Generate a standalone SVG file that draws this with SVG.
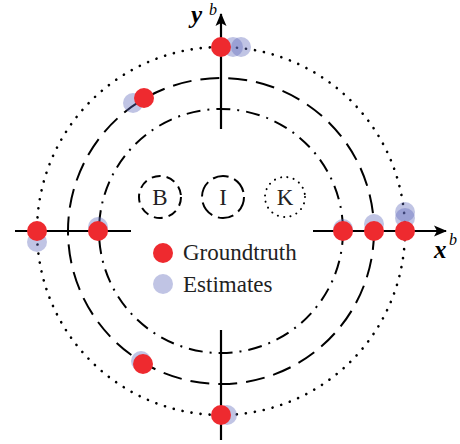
<svg xmlns="http://www.w3.org/2000/svg" width="460" height="444" viewBox="0 0 460 444">
<style>
.ring{fill:none;stroke:#000;stroke-width:2}
.outer{stroke-dasharray:0.1 9;stroke-linecap:round;stroke-width:2.6}
.mid{stroke-dasharray:19 9}
.inner{stroke-dasharray:14 7 2 7}
.axis{stroke:#000;stroke-width:2.2;fill:none}
.gt{fill:#ee2a2f}
.est{fill:#616bbb;fill-opacity:0.4}
.lbl{font-family:"Liberation Serif",serif;font-size:23px;fill:#222}
.ax{font-family:"Liberation Serif",serif;font-style:italic;fill:#000}
</style>
<defs>
<marker id="arr" markerWidth="14" markerHeight="12" refX="12" refY="6" orient="auto" markerUnits="userSpaceOnUse">
<path d="M0,0.5 L13,6 L0,11.5 L3,6 Z" fill="#000"/>
</marker>
</defs>
<rect width="460" height="444" fill="#fff"/>
<g id="rings">
<circle class="ring outer" cx="221" cy="231" r="184"/>
<circle class="ring mid" cx="221" cy="231" r="153"/>
<circle class="ring inner" cx="221" cy="231" r="122"/>
</g>
<g id="connectors">
<line class="axis" x1="15" y1="231" x2="131" y2="231"/>
<line class="axis" x1="313" y1="231" x2="446" y2="231" marker-end="url(#arr)"/>
<line class="axis" x1="221" y1="440" x2="221" y2="330"/>
<line class="axis" x1="221" y1="129" x2="221" y2="14" marker-end="url(#arr)"/>
</g>
<g id="axis-labels">
<text class="ax" x="191" y="23" font-size="25" font-weight="bold">y</text>
<text class="ax" x="209" y="15" font-size="16">b</text>
<text class="ax" x="434" y="258" font-size="25" font-weight="bold">x</text>
<text class="ax" x="449" y="245" font-size="16">b</text>
</g>
<g id="frames">
<g id="frame-B"><circle class="ring" cx="160" cy="197" r="21" stroke-dasharray="9 6"/><text class="lbl" x="160" y="205" text-anchor="middle" font-size="25">B</text></g>
<g id="frame-I"><circle class="ring" cx="223" cy="197" r="21" stroke-dasharray="16 6"/><text class="lbl" x="223" y="205" text-anchor="middle" font-size="25">I</text></g>
<g id="frame-K"><circle class="ring" cx="285" cy="197" r="20" stroke-dasharray="0.1 6.3" stroke-linecap="round" stroke-width="2.4"/><text class="lbl" x="285" y="205" text-anchor="middle" font-size="25">K</text></g>
</g>
<g id="estimates">
<circle class="est" cx="233" cy="47" r="10"/>
<circle class="est" cx="241" cy="47" r="10"/>
<circle class="est" cx="133" cy="103" r="10"/>
<circle class="est" cx="37" cy="242" r="10"/>
<circle class="est" cx="98" cy="227" r="10"/>
<circle class="est" cx="343" cy="229" r="10"/>
<circle class="est" cx="374" cy="224" r="10"/>
<circle class="est" cx="405" cy="212" r="10"/>
<circle class="est" cx="405" cy="218" r="10"/>
<circle class="est" cx="141" cy="361" r="10"/>
<circle class="est" cx="227" cy="415" r="10"/>
</g>
<g id="groundtruth">
<circle class="gt" cx="221" cy="47" r="10"/>
<circle class="gt" cx="144" cy="98" r="10"/>
<circle class="gt" cx="37" cy="231" r="10"/>
<circle class="gt" cx="98" cy="231" r="10"/>
<circle class="gt" cx="343" cy="231" r="10"/>
<circle class="gt" cx="374" cy="231" r="10"/>
<circle class="gt" cx="405" cy="231" r="10"/>
<circle class="gt" cx="143" cy="364" r="10"/>
<circle class="gt" cx="221" cy="415" r="10"/>
</g>
<g id="legend">
<circle class="gt" cx="163" cy="253" r="10"/>
<text class="lbl" x="183" y="260">Groundtruth</text>
<circle class="est" cx="163" cy="284" r="10"/>
<text class="lbl" x="183" y="292">Estimates</text>
</g>
</svg>
